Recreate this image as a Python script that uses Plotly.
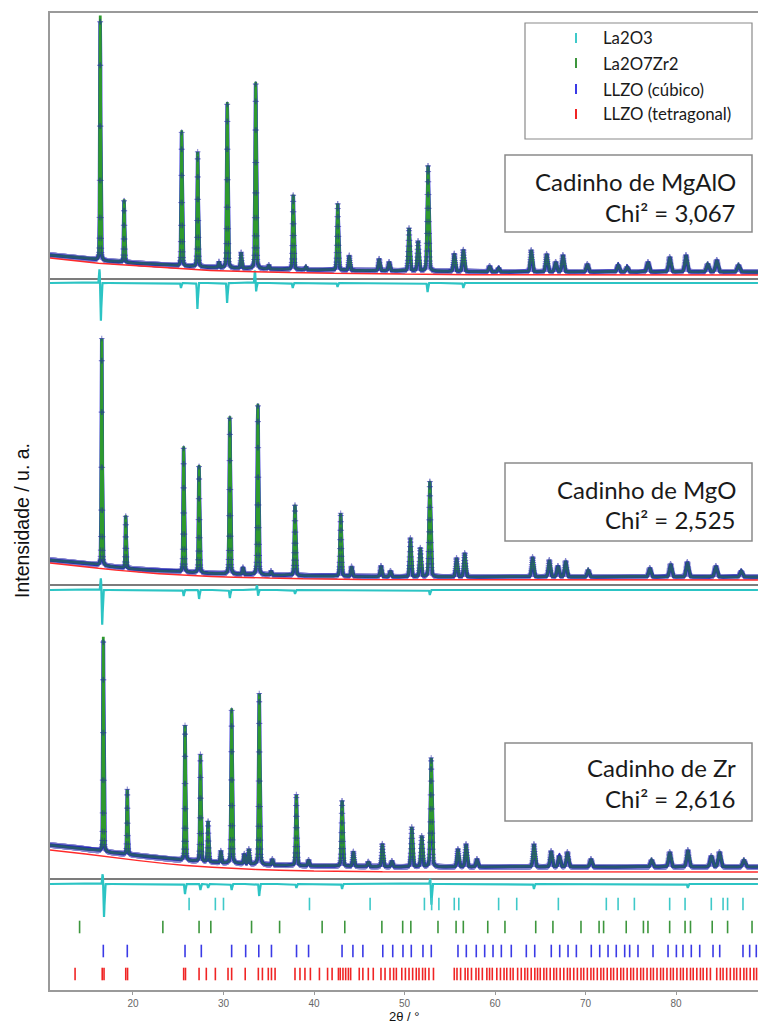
import numpy as np
import plotly.graph_objects as go

# ---------------- data ----------------
panel_names = ["Cadinho de MgAlO", "Cadinho de MgO", "Cadinho de Zr"]
chi2_labels = ["Chi² = 3,067", "Chi² = 2,525", "Chi² = 2,616"]

# Panel 1 (MgAlO) peaks: 2theta, intensity above background (u.a.)
p1_pos = [16.38, 19.02, 25.38, 27.15, 29.5, 30.42, 31.95, 33.56, 35.0, 37.7, 39.1,
          42.62, 43.9, 47.2, 48.3, 50.5, 51.5, 52.6, 55.5, 56.5, 59.4, 60.4,
          64.0, 65.7, 66.7, 67.5, 70.2, 73.6, 74.6, 76.9, 79.3, 81.1, 83.5, 84.5, 86.9]
p1_int = [245, 63, 136, 115, 6, 166, 16, 187, 4, 75, 3,
          67, 15, 12, 9, 43, 30, 106, 18, 22, 6, 4,
          22, 18, 10, 17, 8, 7, 5, 10, 15, 17, 8, 12, 7]
p1_bg_pos = [10.8, 14, 17, 20, 25, 30, 35, 40, 50, 60, 75, 89.1]
p1_bg_int = [21, 18, 15, 13, 10, 8, 7, 6, 5, 4, 4, 4]
p1_diff_pos = [16.3, 16.45, 25.3, 27.12, 30.4, 33.48, 33.6, 37.65, 42.6, 52.55, 56.5]
p1_diff_int = [14, -38, -5, -26, -20, 13, -9, -5, -4, -9, -5]

# Panel 2 (MgO)
p2_pos = [16.55, 19.2, 25.6, 27.3, 30.7, 32.15, 33.8, 35.25, 37.9, 42.95, 44.15,
          47.4, 48.45, 50.65, 51.75, 52.8, 55.75, 56.65, 64.15, 66.0, 66.95, 67.8,
          70.3, 77.1, 79.4, 81.25, 84.4, 87.2]
p2_int = [227, 53, 126, 108, 158, 7, 171, 4, 71, 63, 10,
          11, 6, 39, 29, 96, 19, 24, 20, 17, 11, 16,
          7, 9, 13, 15, 11, 6]
p2_bg_pos = [10.8, 14, 17, 20, 25, 30, 35, 40, 50, 60, 75, 89.1]
p2_bg_int = [22, 19, 16, 13, 10, 8, 7, 6, 5, 5, 5, 5]
p2_diff_pos = [16.45, 16.6, 25.6, 27.3, 30.7, 33.7, 33.82, 37.9, 52.8]
p2_diff_int = [12, -35, -6, -9, -8, 5, -6, -4, -5]

# Panel 3 (Zr)
p3_pos = [16.72, 19.37, 25.75, 27.45, 28.3, 29.7, 30.9, 32.3, 32.8, 33.95, 35.4,
          38.05, 39.4, 43.1, 44.35, 46.0, 47.55, 48.6, 50.8, 51.9, 52.95, 55.9,
          56.8, 58.0, 64.3, 66.2, 67.1, 68.0, 70.6, 77.3, 79.3, 81.3, 83.9, 84.8, 87.5]
p3_int = [215, 65, 135, 107, 41, 12, 155, 10, 15, 171, 6,
          71, 6, 66, 15, 5, 23, 6, 40, 31, 109, 18,
          23, 8, 23, 16, 11, 15, 8, 7, 15, 17, 11, 15, 7]
p3_bg_pos = [10.8, 14, 17, 20, 25, 30, 35, 40, 50, 60, 75, 89.1]
p3_bg_int = [29, 26, 22, 19, 14, 11, 9, 8, 7, 7, 7, 7]
p3_diff_pos = [16.65, 16.8, 25.75, 27.45, 28.3, 30.9, 33.95, 38.05, 43.1, 52.85, 52.97, 64.3, 81.3]
p3_diff_int = [10, -33, -10, -6, -4, -6, -12, -4, -5, 6, -21, -5, -4]

# observed intensity sitting above refined background (u.a.)
obs_excess = [3, 3, 5]

# Reflection positions of each phase
ticks_La2O3 = [26.2, 29.1, 30.0, 39.5, 46.2, 52.2, 53.0, 53.8, 55.5, 56.0, 60.4, 62.4,
               67.0, 72.3, 73.6, 75.4, 79.3, 81.0, 83.9, 85.2, 85.7, 87.4]
ticks_La2O7Zr2 = [14.1, 23.3, 27.3, 28.6, 33.1, 36.2, 40.9, 43.4, 47.5, 49.8, 50.7, 53.7,
                  55.7, 56.5, 59.2, 61.1, 64.5, 66.4, 69.5, 71.5, 72.0, 74.5, 76.4, 76.9,
                  79.3, 81.0, 81.6, 84.0, 85.7, 88.4]
ticks_LLZO_cub = [16.72, 19.37, 25.75, 27.55, 30.9, 32.45, 33.9, 35.3, 38.07, 39.4, 43.1,
                  44.3, 45.4, 47.6, 48.7, 49.83, 50.75, 52.04, 52.96, 55.91, 56.83, 57.93,
                  58.86, 59.78, 60.7, 61.8, 63.46, 64.39, 66.22, 67.15, 68.07, 68.99, 70.64,
                  71.57, 72.49, 73.4, 74.33, 74.88, 75.8, 77.46, 79.12, 80.04, 80.77, 81.69,
                  82.62, 84.09, 84.83, 87.4, 88.14, 88.87]
ticks_LLZO_tet = [13.6, 16.6, 16.8, 19.2, 19.4, 25.6, 25.8, 27.3, 28.1, 29.1, 30.5, 30.9,
                  32.4, 33.85, 34.3, 34.95, 35.3, 35.7, 37.9, 38.45, 39.0, 39.6, 40.6, 41.5,
                  42.0, 42.7, 42.9, 43.2, 43.5, 43.8, 44.05, 45.0, 45.4, 46.0, 46.55, 47.4,
                  47.85, 48.4, 48.8, 49.1, 49.7, 50.1, 50.5, 50.9, 51.3, 51.6, 52.0, 52.3,
                  52.7, 53.2, 55.5, 55.8, 56.2, 56.7, 57.0, 57.4, 57.9, 58.2, 58.6, 59.1,
                  59.4, 59.7, 60.2, 60.6, 61.0, 61.3, 61.7, 62.0, 62.5, 62.9, 63.3, 63.6,
                  64.0, 64.4, 64.7, 65.0, 65.4, 65.7, 66.1, 66.5, 66.8, 67.2, 67.6, 68.0,
                  68.3, 68.7, 69.1, 69.5, 69.8, 70.2, 70.6, 70.9, 71.3, 71.7, 72.0, 72.4,
                  72.8, 73.1, 73.5, 73.9, 74.2, 74.6, 75.0, 75.3, 75.7, 76.1, 76.4, 76.8,
                  77.2, 77.5, 77.9, 78.3, 78.6, 79.0, 79.4, 79.7, 80.1, 80.5, 80.8, 81.2,
                  81.6, 81.9, 82.3, 82.7, 83.0, 83.4, 83.8, 84.5, 84.9, 85.2, 85.6, 86.0,
                  86.4, 86.7, 87.1, 87.5, 87.8, 88.2, 88.6, 88.9]
phase_names = ["La2O3", "La2O7Zr2", "LLZO (cúbico)", "LLZO (tetragonal)"]

# ---------------- styling / layout constants ----------------
W, H = 758, 1023
ML, MR, MT, MB = 50, 0, 13, 33
PW, PH = W - ML - MR, H - MT - MB
X_RANGE = [10.83, 89.06]
Y_RANGE = [0, 977]

panel_zero = [711, 405, 111]       # y of each pattern's zero line
diff_shift = [-4, -5, -5]          # difference curve offset below zero line
tick_rows = [86, 63, 39, 16]       # y of reflection marker rows

C_OBS = "#2c2cd8"
C_OBS_PT = "#2424a8"
C_CALC = "#2e9a2e"
C_BG = "#ff2a2a"
C_DIFF = "#2cc4c4"
C_ZERO = "#505050"
phase_colors = ["#3fc9c9", "#3d963d", "#3a3ae6", "#f02424"]
FONT_BOX = "Lato"


def px_x(px):
    return (px - ML) / PW


def px_y(py):
    return (H - MB - py) / PH


def fwhm(t):
    return 0.09 + 0.0028 * (t - 10)


def profile(t, pos, inten):
    y = np.zeros_like(t)
    for p, h in zip(pos, inten):
        w = fwhm(p)
        dx = (t - p) / w
        g = np.exp(-4 * np.log(2) * dx ** 2)
        l = 1 / (1 + 4 * dx ** 2)
        y += h * (0.75 * g + 0.25 * l)
    return y


def spikes(t, pos, inten):
    y = np.zeros_like(t)
    for p, h in zip(pos, inten):
        y += h * np.exp(-0.5 * ((t - p) / 0.05) ** 2)
    return y


t_fine = np.arange(X_RANGE[0], X_RANGE[1], 0.008)
t_obs = np.arange(X_RANGE[0], X_RANGE[1], 0.02)

panels = [
    (p1_pos, p1_int, p1_bg_pos, p1_bg_int, p1_diff_pos, p1_diff_int),
    (p2_pos, p2_int, p2_bg_pos, p2_bg_int, p2_diff_pos, p2_diff_int),
    (p3_pos, p3_int, p3_bg_pos, p3_bg_int, p3_diff_pos, p3_diff_int),
]

fig = go.Figure()

for i, (pos, inten, bgp, bgi, dp, di) in enumerate(panels):
    z = panel_zero[i]
    bg_f = np.interp(t_fine, bgp, bgi)
    bg_o = np.interp(t_obs, bgp, bgi)
    calc = z + bg_f + obs_excess[i] + profile(t_fine, pos, inten)
    obs = z + bg_o + obs_excess[i] + profile(t_obs, pos, inten)
    diff = z + diff_shift[i] + spikes(t_fine, dp, di)

    # zero line
    fig.add_trace(go.Scatter(x=[X_RANGE[0], X_RANGE[1]], y=[z, z], mode="lines",
                             line=dict(color=C_ZERO, width=1.6), showlegend=False,
                             hoverinfo="skip"))
    # difference
    fig.add_trace(go.Scatter(x=t_fine, y=diff, mode="lines",
                             line=dict(color=C_DIFF, width=2.2), showlegend=False,
                             hoverinfo="skip"))
    # observed band (dense points)
    fig.add_trace(go.Scatter(x=t_obs, y=obs, mode="lines",
                             line=dict(color=C_OBS, width=3.6), showlegend=False,
                             hoverinfo="skip"))
    # calc
    fig.add_trace(go.Scatter(x=t_fine, y=calc, mode="lines",
                             line=dict(color=C_CALC, width=2.8), showlegend=False,
                             hoverinfo="skip"))
    # observed points
    fig.add_trace(go.Scatter(x=t_obs, y=obs, mode="markers",
                             marker=dict(symbol="cross-thin", size=4, color=C_OBS_PT,
                                         line=dict(color=C_OBS_PT, width=1)),
                             opacity=0.55, showlegend=False, hoverinfo="skip"))
    # background
    fig.add_trace(go.Scatter(x=t_fine, y=z + bg_f, mode="lines",
                             line=dict(color=C_BG, width=1.4), showlegend=False,
                             hoverinfo="skip"))

# reflection markers
for name, ticks, col, row in zip(phase_names,
                                 [ticks_La2O3, ticks_La2O7Zr2, ticks_LLZO_cub, ticks_LLZO_tet],
                                 phase_colors, tick_rows):
    fig.add_trace(go.Scatter(x=ticks, y=[row] * len(ticks), mode="markers", name=name,
                             marker=dict(symbol="line-ns", size=9, color=col,
                                         line=dict(color=col, width=1.6)),
                             showlegend=False, hoverinfo="skip"))

shapes = []
annotations = []

# manual legend
shapes.append(dict(type="rect", xref="paper", yref="paper",
                   x0=px_x(525), x1=px_x(752), y0=px_y(139), y1=px_y(23),
                   line=dict(color="#8a8a8a", width=1.2), fillcolor="white", layer="above"))
leg_rows = [38, 63, 89, 114]
for name, col, ry in zip(phase_names, phase_colors, leg_rows):
    shapes.append(dict(type="line", xref="paper", yref="paper",
                       x0=px_x(576), x1=px_x(576), y0=px_y(ry - 5), y1=px_y(ry + 5),
                       line=dict(color=col, width=2), layer="above"))
    annotations.append(dict(text=name, xref="paper", yref="paper", x=px_x(601), y=px_y(ry),
                            xanchor="left", yanchor="middle", showarrow=False,
                            font=dict(family=FONT_BOX, size=16.8, color="#1a1a1a")))

# label boxes
boxes = [(155, 232, 181, 212), (463, 541, 489, 519), (743, 821, 767, 798)]
for (y0, y1, l1, l2), nm, chi in zip(boxes, panel_names, chi2_labels):
    shapes.append(dict(type="rect", xref="paper", yref="paper",
                       x0=px_x(505), x1=px_x(752), y0=px_y(y1), y1=px_y(y0),
                       line=dict(color="#8a8a8a", width=1.5), fillcolor="white", layer="above"))
    annotations.append(dict(text=nm, xref="paper", yref="paper", x=px_x(738), y=px_y(l1),
                            xanchor="right", yanchor="middle", showarrow=False,
                            font=dict(family=FONT_BOX, size=24, color="#1a1a1a")))
    annotations.append(dict(text=chi, xref="paper", yref="paper", x=px_x(738), y=px_y(l2),
                            xanchor="right", yanchor="middle", showarrow=False,
                            font=dict(family=FONT_BOX, size=24, color="#1a1a1a")))

# axis titles
annotations.append(dict(text="Intensidade / u. a.", xref="paper", yref="paper",
                        x=px_x(22), y=px_y(521), textangle=-90, showarrow=False,
                        xanchor="center", yanchor="middle",
                        font=dict(family="Liberation Sans", size=19.5, color="#111")))
annotations.append(dict(text="2θ / °", xref="paper", yref="paper",
                        x=px_x(405), y=px_y(1016), showarrow=False,
                        xanchor="center", yanchor="middle",
                        font=dict(family="Liberation Sans", size=13, color="#111")))

fig.update_layout(
    width=W, height=H,
    margin=dict(l=ML, r=MR, t=MT, b=MB),
    paper_bgcolor="white", plot_bgcolor="white",
    showlegend=False,
    shapes=shapes, annotations=annotations,
    xaxis=dict(range=X_RANGE, showgrid=False, zeroline=False, showline=True,
               linecolor="#9a9a9a", linewidth=2, mirror=True,
               ticks="outside", ticklen=3, tickcolor="#9a9a9a",
               tickvals=[20, 30, 40, 50, 60, 70, 80],
               tickfont=dict(family="Liberation Sans", size=10, color="#666")),
    yaxis=dict(range=Y_RANGE, showgrid=False, zeroline=False, showline=True,
               linecolor="#9a9a9a", linewidth=2, mirror=False,
               showticklabels=False, ticks=""),
)

fig.write_html("out.html")
